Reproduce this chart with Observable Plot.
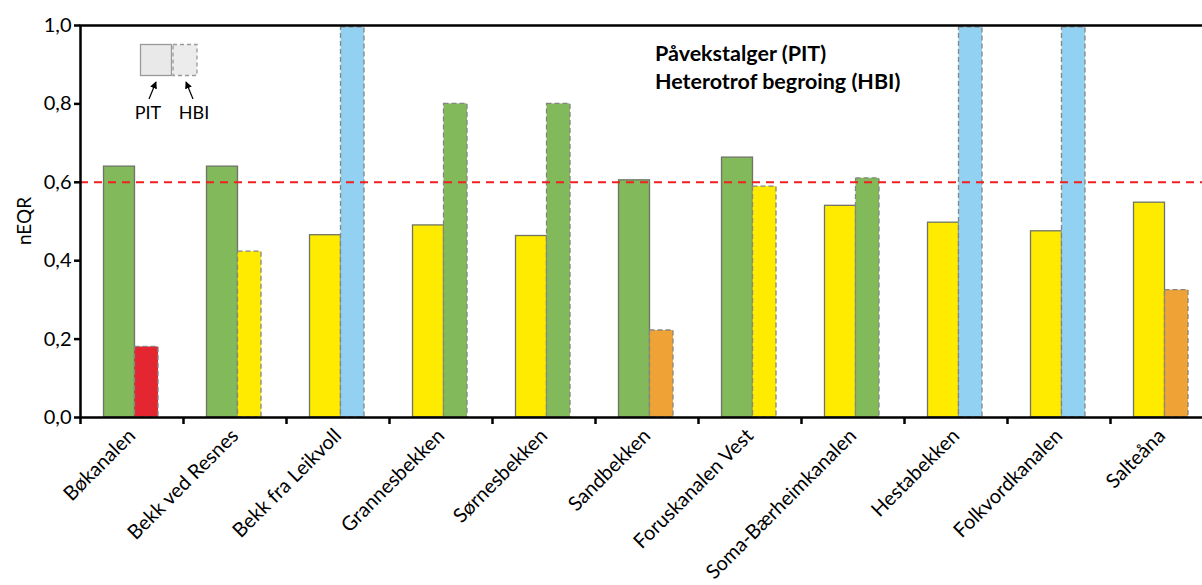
<!DOCTYPE html>
<html>
<head>
<meta charset="utf-8">
<script src="https://cdn.jsdelivr.net/npm/d3@7"></script>
<script src="https://cdn.jsdelivr.net/npm/@observablehq/plot@0.6"></script>
<style>
  html, body { margin: 0; padding: 0; background: #fff; overflow: hidden; }
  #wrap { position: relative; width: 1202px; height: 585px; overflow: hidden; font-family: Lato, "Open Sans", sans-serif; }
  #chart { position: absolute; left: 0; top: 0; width: 1213px; }
  #chart svg { max-width: none !important; }
  .ylab { position: absolute; left: 23px; top: 221px; transform: translate(-50%, -50%) rotate(-90deg); font-size: 19px; color: #000; }
  .note { position: absolute; left: 655px; font-weight: bold; font-size: 21.5px; color: #000; white-space: nowrap; }
  #legend { position: absolute; left: 0; top: 0; }
</style>
</head>
<body>
<div id="wrap">
  <div id="chart"></div>
  <div class="ylab">nEQR</div>
  <div class="note" style="top:40px">Påvekstalger (PIT)</div>
  <div class="note" style="top:68px">Heterotrof begroing (HBI)</div>
  <svg id="legend" width="260" height="130">
    <defs>
      <marker id="ah" viewBox="0 0 10 10" refX="9" refY="5" markerWidth="6" markerHeight="6" orient="auto-start-reverse">
        <path d="M0,0 L10,5 L0,10 z" fill="#000"/>
      </marker>
    </defs>
    <rect x="140.5" y="44.5" width="31" height="31" fill="#e9e9e9" stroke="#9a9a9a" stroke-width="1.3"/>
    <rect x="173" y="44.5" width="24" height="31" fill="#ececec" stroke="#9a9a9a" stroke-width="1.3" stroke-dasharray="4,3"/>
    <line x1="149" y1="99" x2="156" y2="82" stroke="#000" stroke-width="1.2" marker-end="url(#ah)"/>
    <line x1="193" y1="99" x2="186" y2="82" stroke="#000" stroke-width="1.2" marker-end="url(#ah)"/>
    <text x="148" y="119" text-anchor="middle" font-family="Lato, sans-serif" font-size="18">PIT</text>
    <text x="194" y="119" text-anchor="middle" font-family="Lato, sans-serif" font-size="18">HBI</text>
  </svg>
</div>
<script>
const sites = ["Bøkanalen", "Bekk ved Resnes", "Bekk fra Leikvoll", "Grannesbekken", "Sørnesbekken", "Sandbekken", "Foruskanalen Vest", "Soma-Bærheimkanalen", "Hestabekken", "Folkvordkanalen", "Salteåna"];
const pit = [0.64, 0.64, 0.465, 0.49, 0.463, 0.605, 0.663, 0.54, 0.497, 0.475, 0.548];
const hbi = [0.18, 0.423, 0.995, 0.80, 0.80, 0.222, 0.589, 0.61, 0.995, 0.995, 0.325];
const pitClass = ["God", "God", "Moderat", "Moderat", "Moderat", "God", "God", "Moderat", "Moderat", "Moderat", "Moderat"];
const hbiClass = ["Svært dårlig", "Moderat", "Svært god", "God", "God", "Dårlig", "Moderat", "God", "Svært god", "Svært god", "Dårlig"];
const classes = ["Svært god", "God", "Moderat", "Dårlig", "Svært dårlig"];
const classColors = ["#92d1f1", "#82b95a", "#ffeb00", "#efa236", "#e3262f"];
const yTicks = [0, 0.2, 0.4, 0.6, 0.8, 1.0];
const threshold = [0.6];

const pitData = sites.map((s, i) => ({site: s, value: pit[i], cls: pitClass[i]}));
const hbiData = sites.map((s, i) => ({site: s, value: hbi[i], cls: hbiClass[i]}));
const fmt = d => d.toFixed(1).replace(".", ",");

const chart = Plot.plot({
  width: 1213,
  height: 585,
  marginLeft: 80,
  marginRight: 0,
  marginTop: 25,
  marginBottom: 168,
  style: {fontFamily: "Lato, 'Open Sans', sans-serif", background: "#fff", overflow: "visible", maxWidth: "none"},
  x: {domain: sites, padding: 0, round: false, label: null},
  y: {domain: [0, 1], label: null},
  color: {domain: classes, range: classColors},
  marks: [
    Plot.barY(pitData, {x: "site", y: "value", fill: "cls", stroke: "#6f7466", strokeWidth: 1.3, insetLeft: 23.5, insetRight: 48.5}),
    Plot.barY(hbiData, {x: "site", y: "value", fill: "cls", stroke: "#858585", strokeWidth: 1.3, strokeDasharray: "5,3", insetLeft: 54.5, insetRight: 25}),
    Plot.ruleY(threshold, {stroke: "#f02020", strokeWidth: 2, strokeDasharray: "8,6"}),
    Plot.frame({stroke: "#000", strokeWidth: 2.5}),
    Plot.ruleX(sites, {x: d => d, dx: -51.5, insetTop: 392, insetBottom: -7, stroke: "#000", strokeWidth: 2.5}),
    Plot.axisY({ticks: yTicks, tickFormat: fmt, tickSize: 6, tickPadding: 3, strokeWidth: 2.5, fontSize: 20, label: null}),
    Plot.axisX({tickSize: 0, tickRotate: -45, tickPadding: 15, fontSize: 20, label: null})
  ]
});
document.getElementById("chart").appendChild(chart);
</script>
</body>
</html>
